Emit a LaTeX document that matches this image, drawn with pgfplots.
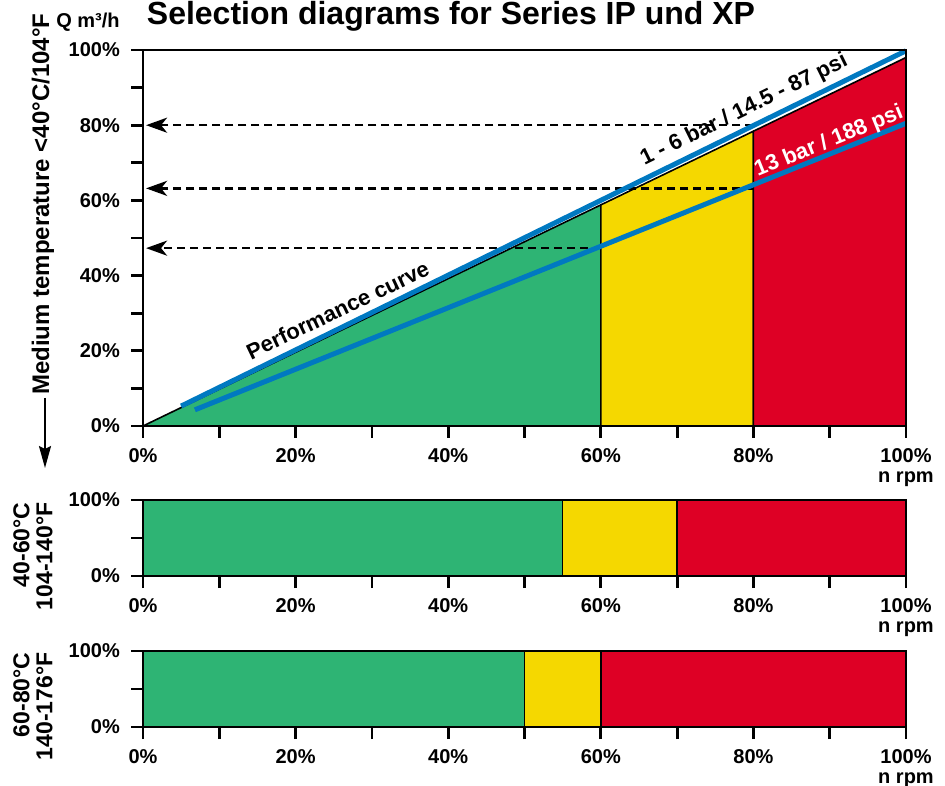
\documentclass[border=0pt]{standalone}
\usepackage{fontspec}
\setmainfont{Liberation Sans}
\usepackage{pgfplots}
\pgfplotsset{compat=1.18}
\usetikzlibrary{arrows.meta}
\definecolor{cgreen}{RGB}{46,180,116}
\definecolor{cyellow}{RGB}{245,216,0}
\definecolor{cred}{RGB}{222,0,37}
\definecolor{cblue}{RGB}{0,121,193}
\newcommand\fs[1]{\fontsize{#1}{#1}\selectfont}
\pgfplotsset{
  mybase/.style={
    scale only axis, width=763pt,
    xmin=0, xmax=100, ymin=0, ymax=100,
    anchor=south west, clip=false, axis on top,
    xtick={0,20,...,100}, minor xtick={10,30,...,90},
    xticklabels={0\%,20\%,40\%,60\%,80\%,{100\%\\n rpm}},
    tick align=outside, tick pos=left,
    major tick length=12pt, minor tick length=12pt,
    tick style={line width=2.8pt, black},
    axis line style={line width=2.8pt},
    ticklabel style={font=\bfseries\fs{20}},
    xticklabel style={align=center, anchor=north, inner sep=0pt, yshift=-10pt},
    yticklabel style={anchor=east, inner sep=0pt, xshift=-11pt},
  },
  region/.style={draw=black, line width=1.6pt},
  darr/.style={black, line width=2.6pt, dash pattern=on 8pt off 5pt,
    -{Stealth[length=21pt,width=15pt,inset=6pt]}},
}
\begin{document}
\begin{tikzpicture}[x=1pt,y=1pt]
\path[use as bounding box] (0pt,0pt) rectangle (945pt,785pt);

% ---------- main chart ----------
\begin{axis}[mybase, at={(143pt,359pt)}, height=376pt,
  ytick={0,20,...,100}, minor ytick={10,30,...,90},
  yticklabels={0\%,20\%,40\%,60\%,80\%,100\%}]
\addplot[region, fill=cgreen] coordinates {(0,0) (60,0) (60,58.8)} -- cycle;
\addplot[region, fill=cyellow] coordinates {(60,0) (80,0) (80,78.4) (60,58.8)} -- cycle;
\addplot[region, fill=cred] coordinates {(80,0) (100,0) (100,98) (80,78.4)} -- cycle;
% dashed arrows
\addplot[darr] coordinates {(80,80) (0.4,80)};
\addplot[darr] coordinates {(80,63.2) (0.4,63.2)};
\addplot[darr] coordinates {(60,47.3) (0.4,47.3)};
% performance lines
\addplot[cblue, line width=5pt] coordinates {(5,5.3) (100,99.8)};
\addplot[cblue, line width=5pt] coordinates {(6.8,4.3) (100,80.5)};
\node[rotate=26.2, inner sep=0pt, font=\bfseries\fs{22}] at (axis cs:78.8,84.0) {1 - 6 bar / 14.5 - 87 psi};
\node[rotate=22, inner sep=0pt, font=\bfseries\fs{22}, text=white] at (axis cs:89.9,75.6) {13 bar / 188 psi};
\node[rotate=25.5, inner sep=0pt, font=\bfseries\fs{22}] at (axis cs:25.5,30.8) {Performance curve};
\end{axis}

% ---------- 40-60 C ----------
\begin{axis}[mybase, at={(143pt,209pt)}, height=76pt,
  ytick={0,100}, minor ytick={50}, yticklabels={0\%,100\%}]
\addplot[region, fill=cgreen] coordinates {(0,0) (55,0) (55,100) (0,100)} -- cycle;
\addplot[region, fill=cyellow] coordinates {(55,0) (70,0) (70,100) (55,100)} -- cycle;
\addplot[region, fill=cred] coordinates {(70,0) (100,0) (100,100) (70,100)} -- cycle;
\end{axis}

% ---------- 60-80 C ----------
\begin{axis}[mybase, at={(143pt,58pt)}, height=76pt,
  ytick={0,100}, minor ytick={50}, yticklabels={0\%,100\%}]
\addplot[region, fill=cgreen] coordinates {(0,0) (50,0) (50,100) (0,100)} -- cycle;
\addplot[region, fill=cyellow] coordinates {(50,0) (60,0) (60,100) (50,100)} -- cycle;
\addplot[region, fill=cred] coordinates {(60,0) (100,0) (100,100) (60,100)} -- cycle;
\end{axis}

% ---------- titles and side labels ----------
\node[anchor=base, font=\bfseries\fs{32}] at (451pt,760pt) {Selection diagrams for Series IP und XP};
\node[anchor=base, font=\bfseries\fs{20}] at (88pt,757pt) {Q m³/h};
\node[rotate=90, anchor=east, font=\bfseries\fs{24}] at (43pt,775pt) {Medium temperature <40°C/104°F};
\draw[line width=2pt, -{Stealth[length=22pt,width=12pt,inset=3pt]}] (45pt,387pt) -- (45pt,317pt);
\node[rotate=90, anchor=east, align=right, font=\bfseries\fs{23}] at (33pt,286pt) {40-60°C\\104-140°F};
\node[rotate=90, anchor=east, align=right, font=\bfseries\fs{23}] at (33pt,136pt) {60-80°C\\140-176°F};
\end{tikzpicture}
\end{document}
